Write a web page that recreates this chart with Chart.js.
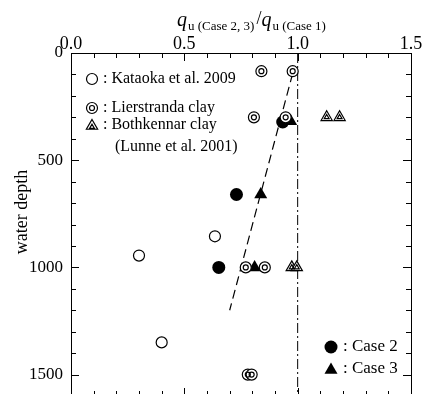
<!DOCTYPE html>
<html><head><meta charset="utf-8">
<script src="https://cdn.jsdelivr.net/npm/chart.js@4/dist/chart.umd.min.js"></script>
<style>html,body{margin:0;padding:0;background:#fff;overflow:hidden;width:424px;height:394px}#wrap{width:424px;height:420px}</style>
</head><body><div id="wrap"><canvas id="c" width="424" height="420"></canvas></div>
<script>
// ---- data (ratio q_u(Case 2,3)/q_u(Case 1) vs water depth) ----
const kataokaX = [0.635, 0.30, 0.40];
const kataokaY = [855, 945, 1350];
const lierX = [0.84, 0.978, 0.807, 0.947, 0.771, 0.855, 0.78, 0.797];
const lierY = [85, 85, 300, 300, 1000, 1000, 1500, 1500];
const bothX = [1.128, 1.185, 0.974, 0.996];
const bothY = [300, 300, 1000, 1000];
const case2X = [0.934, 0.73, 0.652];
const case2Y = [322, 660, 1000];
const case3X = [0.969, 0.837, 0.81];
const case3Y = [318, 660, 1000];
const trendX = [0.978, 0.70];
const trendY = [95, 1200];
const refX = [1.0, 1.0];
const refY = [0, 1600];
const xTicks = [0, 0.5, 1.0, 1.5];
const yTicks = [0, 500, 1000, 1500];

const pts = (xs, ys) => xs.map((x, i) => ({x, y: ys[i]}));
const FONT = "'Liberation Serif', 'DejaVu Serif', serif";

const frame = {
  id: 'frame',
  afterDraw(chart) {
    const {ctx, chartArea: a, scales: {x, y}} = chart;
    ctx.save();
    ctx.strokeStyle = '#000'; ctx.lineWidth = 1;
    ctx.strokeRect(Math.round(a.left) + 0.5, Math.round(a.top) + 0.5, Math.round(a.right - a.left), Math.round(a.bottom - a.top));
    ctx.beginPath();
    for (let i = 0; i <= 15; i++) {
      const v = i / 10, px = Math.round(x.getPixelForValue(v)) + 0.5;
      const L = (i % 5 === 0) ? 8 : 5;
      ctx.moveTo(px, a.top); ctx.lineTo(px, a.top + L);
      ctx.moveTo(px, a.bottom); ctx.lineTo(px, a.bottom - L);
    }
    for (let i = 0; i <= 16; i++) {
      const v = i * 100, py = Math.round(y.getPixelForValue(v)) + 0.5;
      const L = (i % 5 === 0) ? 8 : 5;
      ctx.moveTo(a.left, py); ctx.lineTo(a.left + L, py);
      ctx.moveTo(a.right, py); ctx.lineTo(a.right - L, py);
    }
    ctx.stroke();

    // axis titles
    ctx.fillStyle = '#000';
    ctx.textBaseline = 'alphabetic'; ctx.textAlign = 'left';
    let cx = 177;
    const part = (t, f, yy) => { ctx.font = f; ctx.fillText(t, cx, yy); cx += ctx.measureText(t).width; };
    part('q', 'italic 20px ' + FONT, 26);
    cx += 1;
    part('u (Case 2, 3)', '13px ' + FONT, 30);
    cx += 2;
    part('/', '18px ' + FONT, 24);
    part('q', 'italic 20px ' + FONT, 26);
    cx += 1;
    part('u (Case 1)', '13px ' + FONT, 30);

    ctx.save();
    ctx.translate(22, 212); ctx.rotate(-Math.PI / 2);
    ctx.font = '18px ' + FONT; ctx.textAlign = 'center'; ctx.textBaseline = 'middle';
    ctx.fillText('water depth', 0, 0);
    ctx.restore();

    // in-plot legend
    ctx.font = '16px ' + FONT; ctx.textAlign = 'left'; ctx.textBaseline = 'middle';
    ctx.lineWidth = 1.2;
    ctx.beginPath(); ctx.arc(92, 79, 5.5, 0, Math.PI * 2); ctx.stroke();
    ctx.fillText(': Kataoka et al. 2009', 103, 79);
    ctx.beginPath(); ctx.arc(92, 108, 5.5, 0, Math.PI * 2); ctx.stroke();
    ctx.beginPath(); ctx.arc(92, 108, 2.5, 0, Math.PI * 2); ctx.stroke();
    ctx.fillText(': Lierstranda clay', 103, 108);
    const tri = (cx0, cy0, r) => {
      ctx.beginPath();
      for (let k = 0; k < 3; k++) {
        const ang = k * 2 * Math.PI / 3;
        const px = cx0 + Math.sin(ang) * r, py = cy0 - Math.cos(ang) * r;
        k ? ctx.lineTo(px, py) : ctx.moveTo(px, py);
      }
      ctx.closePath();
    };
    tri(92, 126, 6.5); ctx.stroke();
    tri(92, 127, 2.8); ctx.stroke();
    ctx.fillText(': Bothkennar clay', 103, 125);
    ctx.fillText('(Lunne et al. 2001)', 115, 147);

    ctx.beginPath(); ctx.arc(331, 347, 6.5, 0, Math.PI * 2); ctx.fill();
    ctx.font = '17px ' + FONT;
    ctx.fillText(': Case 2', 343, 347);
    tri(331, 370, 7.5); ctx.fill();
    ctx.fillText(': Case 3', 343, 369);
    ctx.restore();
  }
};

new Chart(document.getElementById('c'), {
  type: 'scatter',
  data: {
    datasets: [
      {label: 'Lierstranda clay (inner)', data: pts(lierX, lierY), pointStyle: 'circle', pointRadius: 2.5,
        backgroundColor: 'rgba(0,0,0,0)', borderColor: '#000', borderWidth: 1.2, order: 0},
      {label: 'Lierstranda clay', data: pts(lierX, lierY), pointStyle: 'circle', pointRadius: 5.5,
        backgroundColor: '#fff', borderColor: '#000', borderWidth: 1.2, order: 1},
      {label: 'Bothkennar clay (inner)', data: pts(bothX, bothY), pointStyle: 'triangle', pointRadius: 2.8,
        backgroundColor: 'rgba(0,0,0,0)', borderColor: '#000', borderWidth: 1.2, order: 1.5},
      {label: 'Bothkennar clay', data: pts(bothX, bothY), pointStyle: 'triangle', pointRadius: 6.5,
        backgroundColor: '#fff', borderColor: '#000', borderWidth: 1.2, order: 2},
      {label: 'Kataoka et al. 2009', data: pts(kataokaX, kataokaY), pointStyle: 'circle', pointRadius: 5.5,
        backgroundColor: '#fff', borderColor: '#000', borderWidth: 1.2, order: 3},
      {label: 'Case 3', data: pts(case3X, case3Y), pointStyle: 'triangle', pointRadius: 7.5,
        backgroundColor: '#000', borderColor: '#000', borderWidth: 0, order: 4},
      {label: 'Case 2', data: pts(case2X, case2Y), pointStyle: 'circle', pointRadius: 6.5,
        backgroundColor: '#000', borderColor: '#000', borderWidth: 0, order: 5},
      {label: 'trend', data: pts(trendX, trendY), showLine: true, pointRadius: 0,
        borderColor: '#000', borderWidth: 1.2, borderDash: [9, 5], order: 6},
      {label: 'ratio 1.0', data: pts(refX, refY), showLine: true, pointRadius: 0,
        borderColor: '#000', borderWidth: 1, borderDash: [10, 3, 2, 3], order: 7}
    ]
  },
  options: {
    responsive: false, animation: false,
    layout: {padding: {left: 0, top: 0, right: 13, bottom: 24}},
    plugins: {legend: {display: false}, tooltip: {enabled: false}},
    scales: {
      x: {
        type: 'linear', position: 'top', min: 0, max: 1.5,
        afterBuildTicks: s => { s.ticks = xTicks.map(v => ({value: v})); },
        afterFit: s => { s.height = 53; },
        grid: {display: false, drawTicks: false}, border: {display: false},
        ticks: {padding: -2, color: '#000', font: {family: FONT, size: 18},
          callback: v => Number(v).toFixed(1)}
      },
      y: {
        type: 'linear', reverse: true, min: 0, max: 1600,
        afterBuildTicks: s => { s.ticks = yTicks.map(v => ({value: v})); },
        afterFit: s => { s.width = 71; },
        grid: {display: false, drawTicks: false}, border: {display: false},
        ticks: {padding: 8, color: '#000', font: {family: FONT, size: 17},
          callback: v => String(v)}
      }
    }
  },
  plugins: [frame]
});
</script></body></html>
